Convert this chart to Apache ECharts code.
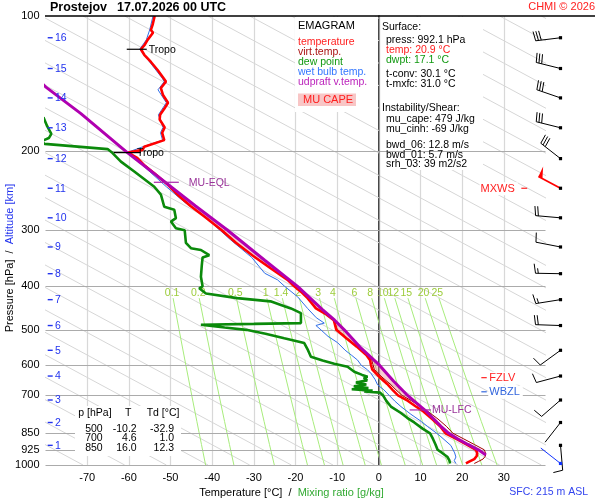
<!DOCTYPE html>
<html>
<head>
<meta charset="utf-8">
<title>Emagram Prostejov</title>
<script src="https://cdn.jsdelivr.net/npm/echarts@6.0.0/dist/echarts.min.js"></script>
<style>
  html, body { margin: 0; padding: 0; background: #fff; }
  #chart { width: 600px; height: 500px; }
</style>
</head>
<body>
<div id="chart"></div>
<script>
// ---- values: [pressure hPa, temperature °C] ----
var pressureTicks = [100, 200, 300, 400, 500, 600, 700, 850, 925, 1000];
var pressureLines = [200, 300, 400, 500, 600, 700, 850, 925, 1000];
var altitudeKm = [16, 15, 14, 13, 12, 11, 10, 9, 8, 7, 6, 5, 4, 3, 2, 1];
var altitudeP = [111.8, 130.9, 152.2, 177.4, 207.8, 241.9, 281.5, 326.9, 374.9, 428.3, 489.1, 555.3, 633.7, 716.6, 804.2, 904.1];
var mixRatios = [0.1, 0.2, 0.5, 1, 1.4, 2, 3, 4, 6, 8, 10, 12, 15, 20, 25];
var mixLevels = [1000, 900, 800, 700, 600, 500, 425];
var mixLabelP = 414;

var temperature = [[100,-53.8],[104.7,-54.3],[107.4,-54.7],[109,-54.2],[113,-55.5],[116,-56.2],[118.6,-57.1],[122,-56.3],[126.6,-54.7],[131.9,-53.1],[137.5,-51.7],[140,-51.1],[144.7,-52.3],[146,-52.7],[150,-51.8],[156,-50.6],[161,-51.5],[166,-52.5],[170,-52.6],[177,-51.4],[182,-52.0],[189,-51.5],[195.5,-56.3],[198.7,-56.7],[201.5,-60.2],[207,-58.0],[215,-56.3],[224,-53.9],[236,-51.0],[250,-48.3],[265,-45.2],[280,-41.8],[300,-37.7],[320,-34.3],[341,-30.4],[365,-25.9],[387,-21.9],[400,-20.3],[411,-18.7],[425,-17.1],[433,-16.4],[448,-15.1],[462,-12.6],[476,-10.8],[500,-10.2],[522,-7.8],[545,-5.3],[569,-3.0],[584,-2.1],[598,-1.9],[612,-1.6],[625,-0.7],[640,0.4],[660,2.0],[680,3.3],[700,4.6],[720,7.0],[740,8.8],[760,10.7],[790,12.8],[820,14.7],[850,16.0],[875,18.6],[900,21.0],[925,23.3],[940,23.6],[955,23.5],[970,22.9],[982,21.8],[992.1,20.9]];

var virtTemp = [[201.5,-60.2],[207,-58.0],[224,-53.9],[236,-51.0],[250,-48.3],[265,-45.2],[280,-41.8],[300,-37.7],[320,-34.25],[341,-30.3],[365,-25.8],[387,-21.8],[400,-20.2],[411,-18.6],[425,-17.0],[433,-16.3],[448,-15.0],[462,-12.5],[476,-10.7],[500,-10.0],[522,-7.6],[545,-5.1],[569,-2.7],[584,-1.7],[598,-1.4],[612,-1.1],[625,-0.2],[640,1.0],[660,2.7],[680,4.1],[700,5.6],[720,7.9],[740,9.9],[760,11.8],[790,14.2],[820,16.2],[850,17.8],[875,20.4],[900,22.9],[925,25.3],[940,25.6],[955,25.6],[970,25.0],[982,23.9],[992.1,22.9]];

var dewPoint = [[168,-80.5],[176,-79.6],[183,-78.6],[187,-79.2],[190,-81],[192.7,-80.2],[197.9,-65.1],[202,-63.9],[211,-61.9],[222,-58.7],[240,-53.9],[250,-52.3],[266,-51.5],[270,-49.1],[282,-48.7],[287,-49.9],[297,-48.7],[300,-46.6],[320,-46.3],[329,-45.1],[332,-42.7],[341,-40.7],[345,-42.3],[360,-42.5],[381,-42.7],[400,-42.3],[404,-43.1],[415,-41.5],[425,-34.0],[432,-26.0],[440,-23.5],[448,-21.1],[459,-18.7],[483,-18.7],[485,-30.0],[487,-42.7],[490,-42.5],[494,-37.0],[500,-31.8],[510,-27.2],[522,-22.7],[535,-17.9],[555,-17.0],[574,-16.3],[585,-13.5],[595,-10.7],[604,-7.5],[620,-5.9],[630,-4.0],[636,-2.7],[640,-3.6],[648,-2.8],[655,-5.5],[662,-3.0],[668,-6.0],[674,-2.5],[678,-6.5],[683,-1.5],[686,-3.5],[690,0.3],[700,1.0],[720,1.8],[741,2.9],[766,5.3],[785,6.8],[804,8.5],[830,10.5],[850,12.3],[875,13.0],[900,13.6],[925,14.1],[940,15.2],[960,16.5],[975,16.9],[992.1,17.1]];

var wetBulb = [[100,-54.2],[107.4,-55.0],[113,-55.8],[118.6,-57.4],[126.6,-55.0],[137.5,-52.0],[140,-51.5],[146,-53.0],[156,-51.0],[166,-52.9],[177,-51.8],[182,-52.4],[189,-51.9],[195.5,-56.6],[201.5,-60.5],[215,-56.7],[240,-51.0],[260,-46.6],[277,-42.3],[315,-35.6],[345,-30.5],[374,-27.4],[387,-24.3],[400,-22.6],[422,-19.5],[448,-17.1],[470,-15.0],[483,-13.1],[489,-15.1],[500,-13.9],[517,-12.2],[534,-9.9],[555,-8.1],[570,-6.5],[584,-5.1],[600,-4.2],[614,-2.7],[625,-1.9],[645,-0.9],[663,-0.3],[680,1.2],[700,2.5],[720,3.8],[741,5.3],[771,7.7],[800,10.2],[821,11.7],[850,13.9],[865,14.9],[905,17.3],[940,18.2],[960,18.5],[978,18.1],[992.1,18.5]];

var parcel = [[950,25.7],[925,23.9],[900,21.4],[875,19.0],[850,16.8],[820,14.9],[790,13.2],[760,11.4],[730,9.2],[700,6.9],[650,3.5],[600,0.2],[550,-4.2],[500,-8.3],[476,-10.6],[450,-13.6],[400,-19.5],[350,-27.4],[300,-36.3],[265,-44.0],[236,-50.9],[201,-60.5],[165,-71.5],[144,-79.9],[130,-85]];

var lfcP = 754, lfcT = 11.1, eqlP = 234.6, eqlT = -51.2;

// wind barbs: pressure, direction (deg), speed (kt), 0 normal / 1 max wind / 2 surface
var windP = [111.8, 130.9, 152.2, 177.4, 207.8, 241.9, 281.5, 326.9, 374.9, 428.3, 489.1, 555.3, 633.7, 716.6, 804.2, 904.1, 992.1];
var windDir = [263, 284, 289, 284, 308, 298, 275, 281, 271, 261, 272, 234, 255, 229, 218, 175, 308];
var windSpd = [30, 30, 30, 30, 30, 50, 20, 10, 15, 15, 20, 10, 10, 10, 0, 10, 0];
var windKind = [0, 0, 0, 0, 0, 1, 0, 0, 0, 0, 0, 0, 0, 0, 0, 0, 2];

var levelNames = ['Tropo', 'Tropo', 'MU-EQL', 'MU-LFC', 'FZLV', 'WBZL', 'MXWS'];
var levelP = [118.6, 201.5, 234.6, 754, 639, 687, 241.9];

var tableP = [500, 700, 850];
var tableT = [-10.2, 4.6, 16.0];
var tableTd = [-32.9, 1.0, 12.3];

// ---- layout / look ----
var T_MIN = -80, T_MAX = 40;
var FONT = 'Liberation Sans, Arial, sans-serif';
var levelLook = [
    {from: -60.5, to: -55.7, color: '#000', text: '#000', dx: 2},
    {from: -63.6, to: -57.1, color: '#000', text: '#000', dx: -4},
    {from: -54.0, to: -48.0, color: '#aa22aa', text: '#993399', dx: 10},
    {from: 7.4, to: 12.5, color: '#aa22aa', text: '#993399', dx: 1},
    {from: 24.6, to: 25.9, color: '#ff2020', text: '#ff2020', dx: 1.5, bg: true},
    {from: 24.6, to: 25.9, color: '#3366dd', text: '#3366dd', dx: 1.5, bg: true},
    {from: 34.2, to: 35.6, color: '#ff2020', text: '#ff2020', dx: -3.5, bg: true, left: true}
];

// saturation mixing ratio isopleth (diagram grid)
function mixT(w, p) {
    var e = w * p / (622 + w);
    var g = Math.log(e / 6.112);
    return 243.5 * g / (17.67 - g);
}
// gray guide lines, T at 1000 hPa, slope 200 °C per decade
var diagStart = [];
for (var t0 = -71; t0 <= 259; t0 += 10) diagStart.push(t0);

function toXY(list) {
    return list.map(function (d) { return [d[1], d[0]]; });
}

var chart = echarts.init(document.getElementById('chart'));
var series = [];

diagStart.forEach(function (t, i) {
    var s = {
        type: 'line', silent: true, symbol: 'none', z: 1,
        data: [[t, 1000], [t - 200, 100]],
        lineStyle: {color: '#d6d6d6', width: 1}
    };
    if (i === 0) {
        s.markLine = {
            silent: true, symbol: ['none', 'none'], z: 3,
            label: {show: false},
            data: pressureLines.map(function (p) {
                return {yAxis: p, lineStyle: {color: '#ababab', width: 1.2, type: 'solid'}};
            }).concat([{xAxis: 0, lineStyle: {color: '#999', width: 1.2, type: 'solid'}}])
        };
    }
    series.push(s);
});

mixRatios.forEach(function (w) {
    series.push({
        type: 'line', silent: true, symbol: 'none', z: 1,
        data: mixLevels.map(function (p) { return [mixT(w, p), p]; }),
        lineStyle: {color: '#a8ec7c', width: 1}
    });
});

// mixing ratio labels
series.push({
    type: 'custom', silent: true, z: 2,
    data: mixRatios.map(function (w) { return [mixT(w, mixLabelP), mixLabelP]; }),
    renderItem: function (params, api) {
        var c = api.coord([api.value(0), api.value(1)]);
        return {type: 'text', style: {text: String(mixRatios[params.dataIndex]), x: c[0], y: c[1],
            fill: '#9ccc3a', font: '10.5px ' + FONT, align: 'center', verticalAlign: 'middle'}};
    }
});

// CAPE area between parcel and virtual temperature
series.push({
    type: 'custom', silent: true, z: 4,
    data: [[0, 500]],
    renderItem: function (params, api) {
        var pts = [api.coord([lfcT, lfcP])];
        parcel.forEach(function (d) {
            if (d[0] < lfcP && d[0] > eqlP) pts.push(api.coord([d[1], d[0]]));
        });
        pts.push(api.coord([eqlT, eqlP]));
        virtTemp.slice().sort(function (a, b) { return a[0] - b[0]; }).forEach(function (d) {
            if (d[0] > eqlP && d[0] < lfcP) pts.push(api.coord([d[1], d[0]]));
        });
        return {type: 'polygon', shape: {points: pts}, style: {fill: 'rgba(240,130,140,0.38)'}};
    }
});

series.push({type: 'line', name: 'virt.temp.', symbol: 'none', silent: true, z: 5,
    data: toXY(virtTemp), lineStyle: {color: '#a00000', width: 1}});
series.push({type: 'line', name: 'wet bulb temp.', symbol: 'none', silent: true, z: 6,
    data: toXY(wetBulb), lineStyle: {color: '#2f6fe8', width: 1}});
series.push({type: 'line', name: 'dew point', symbol: 'none', silent: true, z: 6,
    data: toXY(dewPoint), lineStyle: {color: '#0b8a0b', width: 2.6}});
series.push({type: 'line', name: 'temperature', symbol: 'none', silent: true, z: 7,
    data: toXY(temperature), lineStyle: {color: '#ff0000', width: 2.6}});
series.push({type: 'line', name: 'udpraft v.temp.', symbol: 'none', silent: true, z: 8,
    data: toXY(parcel), lineStyle: {color: '#b000b0', width: 3}});

// pressure labels
series.push({
    type: 'custom', silent: true, z: 10,
    data: pressureTicks.map(function (p) { return [T_MIN, p]; }),
    renderItem: function (params, api) {
        var c = api.coord([api.value(0), api.value(1)]);
        return {type: 'text', style: {text: String(pressureTicks[params.dataIndex]), x: c[0] - 6, y: c[1],
            fill: '#000', font: '11px ' + FONT, align: 'right', verticalAlign: 'middle'}};
    }
});

// altitude labels
series.push({
    type: 'custom', silent: true, z: 10,
    data: altitudeP.map(function (p) { return [T_MIN, p]; }),
    renderItem: function (params, api) {
        var c = api.coord([api.value(0), api.value(1)]);
        return {type: 'group', children: [
            {type: 'line', shape: {x1: c[0] + 2.2, y1: c[1], x2: c[0] + 7.2, y2: c[1]}, style: {stroke: '#2233ee', lineWidth: 1.4}},
            {type: 'text', style: {text: String(altitudeKm[params.dataIndex]), x: c[0] + 9.5, y: c[1] + 0.5,
                fill: '#2233ee', font: '10.5px ' + FONT, align: 'left', verticalAlign: 'middle'}}
        ]};
    }
});

// special levels
series.push({
    type: 'custom', silent: true, z: 10,
    data: levelP.map(function (p, i) { return [levelLook[i].from, p]; }),
    renderItem: function (params, api) {
        var i = params.dataIndex, k = levelLook[i];
        var a = api.coord([k.from, levelP[i]]), b = api.coord([k.to, levelP[i]]);
        var tx = k.left ? a[0] + k.dx : b[0] + k.dx;
        return {type: 'group', children: [
            {type: 'line', shape: {x1: a[0], y1: a[1], x2: b[0], y2: b[1]}, style: {stroke: k.color, lineWidth: 1.2}},
            {type: 'text', style: {text: levelNames[i], x: tx, y: a[1] + 0.5, fill: k.text,
                font: (k.bg ? '11px ' : '10.5px ') + FONT, align: k.left ? 'right' : 'left', verticalAlign: 'middle',
                backgroundColor: k.bg ? '#fff' : null, padding: k.bg ? [1, 3, 1, 1] : 0}}
        ]};
    }
});

// wind barbs, drawn to the right of the temperature range
series.push({
    type: 'custom', silent: true, z: 10,
    data: windP.map(function (p) { return [T_MAX, p]; }),
    renderItem: function (params, api) {
        var i = params.dataIndex;
        var c = api.coord([api.value(0), api.value(1)]);
        var x0 = c[0] + 15, y0 = c[1];
        var a = windDir[i] * Math.PI / 180;
        var ux = Math.sin(a), uy = -Math.cos(a);
        var px = Math.cos(a), py = Math.sin(a);
        var L = 25;
        var col = windKind[i] === 1 ? '#ff0000' : (windKind[i] === 2 ? '#1133ff' : '#000');
        var ex = x0 + ux * L, ey = y0 + uy * L;
        var kids = [{type: 'line', shape: {x1: x0, y1: y0, x2: ex, y2: ey},
            style: {stroke: col, lineWidth: windKind[i] === 1 ? 1.7 : 1}}];
        var s = windSpd[i], pos = 0;
        while (s >= 50) {
            var bx = ex - ux * pos, by = ey - uy * pos;
            kids.push({type: 'polygon', shape: {points: [[bx, by], [bx - ux * 4.5, by - uy * 4.5],
                [bx + px * 11 + ux * 0.5, by + py * 11 + uy * 0.5]]}, style: {fill: col}});
            pos += 6; s -= 50;
        }
        while (s >= 10) {
            var fx = ex - ux * pos, fy = ey - uy * pos;
            kids.push({type: 'line', shape: {x1: fx, y1: fy, x2: fx + px * 9.5 + ux * 1.5, y2: fy + py * 9.5 + uy * 1.5},
                style: {stroke: col, lineWidth: 1}});
            pos += 2.8; s -= 10;
        }
        if (s >= 5) {
            if (pos === 0) pos = 2.8;
            var hx = ex - ux * pos, hy = ey - uy * pos;
            kids.push({type: 'line', shape: {x1: hx, y1: hy, x2: hx + px * 5 + ux * 0.8, y2: hy + py * 5 + uy * 0.8},
                style: {stroke: col, lineWidth: 1}});
        }
        kids.push({type: 'rect', shape: {x: x0 - 1.6, y: y0 - 1.6, width: 3.2, height: 3.2},
            style: {fill: windKind[i] === 2 ? '#1133ff' : '#000'}});
        return {type: 'group', children: kids};
    }
});

function txt(x, y, text, color, size, align, extra) {
    var st = {text: text, fill: color || '#000', font: (size || 10.5) + 'px ' + FONT,
        align: align || 'left', verticalAlign: 'middle'};
    if (extra) for (var k in extra) st[k] = extra[k];
    return {type: 'text', x: x, y: y, z: 20, silent: true, style: st};
}

var graphics = [
    {type: 'rect', z: 2, silent: true, shape: {x: 295, y: 17, width: 83, height: 95}, style: {fill: '#fff'}},
    {type: 'rect', z: 2, silent: true, shape: {x: 380, y: 17, width: 103, height: 153}, style: {fill: '#fff'}},
    {type: 'rect', z: 15, silent: true, shape: {x: 75, y: 406, width: 106, height: 50}, style: {fill: '#fff'}},
    {type: 'rect', z: 16, silent: true, shape: {x: 298, y: 93.5, width: 58, height: 12.5}, style: {fill: '#f8c6c6'}},
    {type: 'line', z: 20, silent: true, shape: {x1: 45, y1: 16, x2: 595, y2: 16}, style: {stroke: '#000', lineWidth: 1.5}},
    txt(50, 7.5, 'Prostejov', '#000', 12.5, 'left', {font: 'bold 12.5px ' + FONT}),
    txt(117, 7.5, '17.07.2026 00 UTC', '#000', 12.5, 'left', {font: 'bold 12.5px ' + FONT}),
    txt(595, 7, 'CHMI \u00a9 2026', '#ff2020', 11, 'right'),
    txt(298, 26, 'EMAGRAM', '#000', 11),
    txt(298, 41.7, 'temperature', '#ff2020'),
    txt(298, 51.7, 'virt.temp.', '#aa1111'),
    txt(298, 61.7, 'dew point', '#119911'),
    txt(298, 71.7, 'wet bulb temp.', '#3377ff'),
    txt(298, 81.7, 'udpraft v.temp.', '#bb22bb'),
    txt(303, 100, 'MU CAPE', '#ff2020', 11),
    txt(382, 27.3, 'Surface:'),
    txt(386, 40, 'press: 992.1 hPa'),
    txt(386, 50, 'temp: 20.9 \u00b0C', '#ff2020'),
    txt(386, 60, 'dwpt: 17.1 \u00b0C', '#119911'),
    txt(386, 74, 't-conv: 30.1 \u00b0C'),
    txt(386, 84.3, 't-mxfc: 31.0 \u00b0C'),
    txt(382, 108.3, 'Instability/Shear:'),
    txt(386, 119.3, 'mu_cape: 479 J/kg'),
    txt(386, 129.3, 'mu_cinh: -69 J/kg'),
    txt(386, 145, 'bwd_06: 12.8 m/s'),
    txt(386, 155, 'bwd_01: 5.7 m/s'),
    txt(386, 164.3, 'srh_03: 39 m2/s2'),
    txt(78.3, 413.3, 'p [hPa]'),
    txt(128.3, 413.3, 'T', '#000', 10.5, 'center'),
    txt(146.7, 413.3, 'Td [\u00b0C]'),
    txt(588, 492.5, 'SFC: 215 m ASL', '#3344ee', 10.5, 'right'),
    txt(291.5, 493, '{a|Temperature [\u00b0C]}  /  {b|Mixing ratio [g/kg]}', '#000', 11, 'center',
        {rich: {a: {fill: '#000', font: '11px ' + FONT}, b: {fill: '#33aa33', font: '11px ' + FONT}}}),
    {type: 'text', x: 10, y: 258, rotation: Math.PI / 2, z: 20, silent: true,
        style: {text: '{a|Pressure [hPa]}  /  {b|Altitude [km]}', fill: '#000', font: '11px ' + FONT,
            align: 'center', verticalAlign: 'middle',
            rich: {a: {fill: '#000', font: '11px ' + FONT}, b: {fill: '#2233ee', font: '11px ' + FONT}}}}
];
var rowY = [429, 438.5, 448.3];
tableP.forEach(function (p, i) {
    graphics.push(txt(102.7, rowY[i], String(p), '#000', 10.5, 'right'));
    graphics.push(txt(136.7, rowY[i], tableT[i].toFixed(1), '#000', 10.5, 'right'));
    graphics.push(txt(174, rowY[i], tableTd[i].toFixed(1), '#000', 10.5, 'right'));
});

var option = {
    animation: false,
    backgroundColor: '#fff',
    textStyle: {fontFamily: FONT},
    grid: {left: 45.5, right: 54.5, top: 16, bottom: 35, outerBoundsMode: 'none'},
    xAxis: {
        type: 'value', min: T_MIN, max: T_MAX, interval: 10,
        axisLine: {show: false}, axisTick: {show: false},
        axisLabel: {color: '#000', fontSize: 11, margin: 7,
            formatter: function (v) { return (v === T_MIN || v === T_MAX) ? '' : String(v); }},
        splitLine: {show: true, showMinLine: false, showMaxLine: false, lineStyle: {color: '#d8d8d8', width: 1.2}}
    },
    yAxis: {
        type: 'log', logBase: 10, min: 100, max: 1000, inverse: true,
        axisLine: {show: true, lineStyle: {color: '#000', width: 1.5}},
        axisTick: {show: false}, axisLabel: {show: false}, splitLine: {show: false}
    },
    graphic: {elements: graphics},
    series: series
};
chart.setOption(option);
</script>
</body>
</html>
